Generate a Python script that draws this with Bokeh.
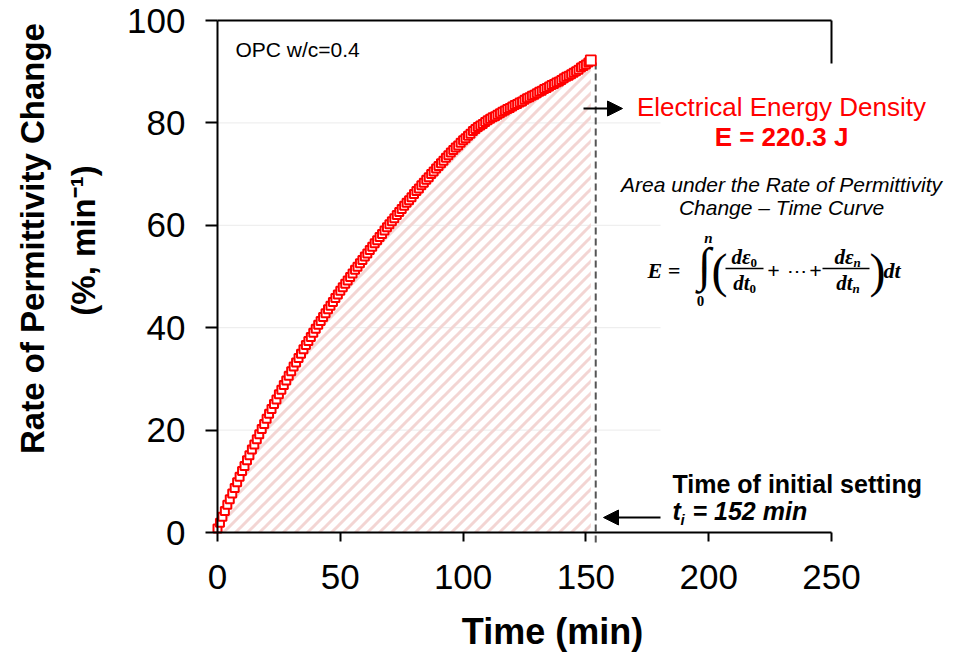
import math
from bokeh.plotting import figure
from bokeh.models import Range1d, Label, Arrow, NormalHead, FixedTicker, CanvasTexture
from bokeh.core.properties import value
from bokeh.embed import file_html
from bokeh.resources import INLINE

# ---------------- data ----------------
time_min = list(range(0, 153))
rate = [0.8, 1.9, 3.1, 4.2, 5.4, 6.5,
        7.6, 8.7, 9.8, 10.9, 12.0,
        13.0, 14.1, 15.1, 16.2, 17.2,
        18.2, 19.2, 20.2, 21.2, 22.2,
        23.2, 24.1, 25.1, 26.0, 27.0,
        27.9, 28.8, 29.7, 30.6, 31.5,
        32.4, 33.2, 34.1, 34.9, 35.8,
        36.6, 37.4, 38.2, 39.0, 39.8,
        40.6, 41.3, 42.1, 42.8, 43.6,
        44.3, 45.0, 45.8, 46.5, 47.2,
        47.9, 48.6, 49.2, 49.9, 50.6,
        51.3, 51.9, 52.6, 53.2, 53.9,
        54.5, 55.2, 55.8, 56.5, 57.1,
        57.7, 58.3, 59.0, 59.6, 60.2,
        60.8, 61.4, 62.0, 62.6, 63.2,
        63.8, 64.4, 64.9, 65.5, 66.1,
        66.7, 67.2, 67.8, 68.3, 68.9,
        69.4, 70.0, 70.5, 71.1, 71.6,
        72.1, 72.6, 73.2, 73.7, 74.2,
        74.7, 75.2, 75.6, 76.1, 76.6,
        77.0, 77.5, 77.9, 78.4, 78.8,
        79.2, 79.5, 79.8, 80.2, 80.5,
        80.8, 81.1, 81.3, 81.6, 81.9,
        82.2, 82.4, 82.7, 82.9, 83.2,
        83.5, 83.7, 84.0, 84.2, 84.5,
        84.8, 85.0, 85.3, 85.5, 85.8,
        86.1, 86.3, 86.6, 86.8, 87.1,
        87.4, 87.6, 87.9, 88.1, 88.4,
        88.7, 89.0, 89.2, 89.5, 89.8,
        90.1, 90.4, 90.8, 91.1, 91.4,
        91.8, 92.2]
x_ticks = [0, 50, 100, 150, 200, 250]
y_ticks = [0, 20, 40, 60, 80, 100]
grid_ticks = [20, 40, 60, 80]
t_initial = 152
energy_J = 220.3
sample_label = "OPC w/c=0.4"

# ---------------- geometry (pixels of the plot box) ----------------
W, H = 959, 653
PX_L, PX_R, PX_T, PX_B = 217, 831, 20, 532
XMAX, YMAX = 250, 100


def dx(px):
    return (px - PX_L) / (PX_R - PX_L) * XMAX


def dy(py):
    return (PX_B - py) / (PX_B - PX_T) * YMAX


RED = "#ff0000"
SANS = "Liberation Sans"
SERIF = "Liberation Serif"

p = figure(width=W, height=H,
           x_range=Range1d(dx(0), dx(W)), y_range=Range1d(dy(H), dy(0)),
           output_backend="svg", toolbar_location=None, title=None,
           min_border=0, min_border_left=0, min_border_right=0,
           min_border_top=0, min_border_bottom=0)
p.background_fill_color = "white"
p.border_fill_color = "white"
p.outline_line_color = None
p.xgrid.visible = False
p.ygrid.visible = False

for ax in (p.xaxis[0], p.yaxis[0]):
    ax.fixed_location = 0
    ax.axis_line_color = "black"
    ax.axis_line_width = 2
    ax.major_tick_line_color = "black"
    ax.major_tick_line_width = 2
    ax.major_tick_in = 0
    ax.minor_tick_line_color = None
    ax.major_label_text_font = SANS
    ax.major_label_text_font_size = "35px"
    ax.major_label_text_color = "black"
p.xaxis.ticker = FixedTicker(ticks=x_ticks)
p.yaxis.ticker = FixedTicker(ticks=y_ticks)
p.xaxis.bounds = (0, XMAX)
p.yaxis.bounds = (0, YMAX)
p.xaxis.major_tick_out = 9
p.yaxis.major_tick_out = 12
p.xaxis.major_label_standoff = 23
p.yaxis.major_label_standoff = 20

# faint horizontal grid lines (only left of the text boxes)
p.segment(x0=0, x1=dx(660), y0=grid_ticks, y1=grid_ticks,
          line_color="#ebebeb", line_width=1)

# 45-degree stripe texture (12 px tile, 3 px stripes)
stripes = CanvasTexture(repetition="repeat", code="""
const s = 12;
const c2 = ctx.canvas;
c2.width = s;
c2.height = s;
ctx.clearRect(0, 0, s, s);
ctx.strokeStyle = color;
ctx.lineWidth = 3;
ctx.beginPath();
for (const c of [0, s, 2 * s]) {
  ctx.moveTo(-3, c + 3);
  ctx.lineTo(s + 3, c - s - 3);
}
ctx.stroke();
""")

# hatched area under curve
p.varea(x=time_min, y1=0, y2=rate, fill_alpha=0, hatch_pattern=value("diag45"),
        hatch_extra={"diag45": stripes},
        hatch_color="#f3d5d3", hatch_weight=3, hatch_scale=12)

# frame: top and short right border
p.segment(x0=[0], y0=[YMAX], x1=[XMAX], y1=[YMAX], line_color="black", line_width=2)
p.segment(x0=[XMAX], y0=[YMAX], x1=[XMAX], y1=[dy(63)], line_color="black", line_width=2)

# dashed vertical line at initial setting
p.segment(x0=[t_initial + 2], y0=[dy(62)], x1=[t_initial + 2], y1=[dy(546)],
          line_color="#555555", line_width=2, line_dash="7 4")

# markers
p.scatter(time_min, rate, marker="square", size=8, line_color=RED,
          fill_color="white", line_width=2)
p.scatter(time_min[-1:], rate[-1:], marker="square", size=10, line_color=RED,
          fill_color="white", line_width=1.8)

# arrows
p.add_layout(Arrow(x_start=dx(583), y_start=dy(108), x_end=dx(622), y_end=dy(108),
                   line_color="black", line_width=2,
                   end=NormalHead(size=15, fill_color="black", line_color="black")))
p.add_layout(Arrow(x_start=dx(660), y_start=dy(517), x_end=dx(603), y_end=dy(517),
                   line_color="black", line_width=2,
                   end=NormalHead(size=15, fill_color="black", line_color="black")))


def lab(text, px, py, size, align="left", color="black", font=SANS,
        style="normal", angle=0.0):
    p.add_layout(Label(x=dx(px), y=dy(py), text=text, text_font=font,
                       text_font_size=f"{size}px", text_align=align,
                       text_baseline="middle", text_color=color,
                       text_font_style=style, angle=angle))


# texts
lab(sample_label, 235, 49, 21)
lab("Electrical Energy Density", 781, 106, 26, align="center", color=RED)
lab(f"E = {energy_J} J", 781, 136, 26, align="center", color=RED, style="bold")
lab("Area under the Rate of Permittivity", 781, 184, 21, align="center", style="italic")
lab("Change \u2013 Time Curve", 781, 207, 21, align="center", style="italic")
lab("Time of initial setting", 672, 483, 25, style="bold")
lab("t", 672, 510, 25, style="bold italic")
lab("i", 680, 519, 15, style="bold italic")
lab(f"= {t_initial} min", 692, 510, 25, style="bold italic")

# axis titles
lab("Time (min)", 552, 631, 36, align="center", style="bold")
lab("Rate of Permittivity Change", 32, 238, 33, align="center", style="bold",
    angle=math.pi / 2)
lab("(%, min\u207b\u00b9)", 83, 240, 33, align="center", style="bold",
    angle=math.pi / 2)

# equation
lab("E =", 647, 270, 22, font=SERIF, style="bold italic")
lab("\u222b", 704, 264, 48, align="center", font=SERIF)
lab("n", 708, 237, 15, align="center", font=SERIF, style="bold italic")
lab("0", 700, 300, 15, align="center", font=SERIF, style="bold")
lab("(", 719, 270, 48, align="center", font=SERIF)
lab("d\u03b5", 750, 256, 21, align="right", font=SERIF, style="bold italic")
lab("0", 750, 262, 13, font=SERIF, style="bold")
lab("dt", 749, 282, 21, align="right", font=SERIF, style="bold italic")
lab("0", 749, 288, 13, font=SERIF, style="bold")
lab("+", 773, 270, 22, align="center", font=SERIF, style="bold")
lab("\u22ef", 796, 270, 20, align="center", font=SERIF)
lab("+", 815, 270, 22, align="center", font=SERIF, style="bold")
lab("d\u03b5", 853, 256, 21, align="right", font=SERIF, style="bold italic")
lab("n", 853, 262, 13, font=SERIF, style="bold italic")
lab("dt", 852, 282, 21, align="right", font=SERIF, style="bold italic")
lab("n", 852, 288, 13, font=SERIF, style="bold italic")
lab(")", 877, 270, 48, align="center", font=SERIF)
lab("dt", 883, 270, 22, font=SERIF, style="bold italic")
p.segment(x0=[dx(725), dx(822)], x1=[dx(763), dx(869)], y0=dy(268), y1=dy(268),
          line_color="black", line_width=1.5)

open("out.html", "w").write(file_html(p, INLINE))
